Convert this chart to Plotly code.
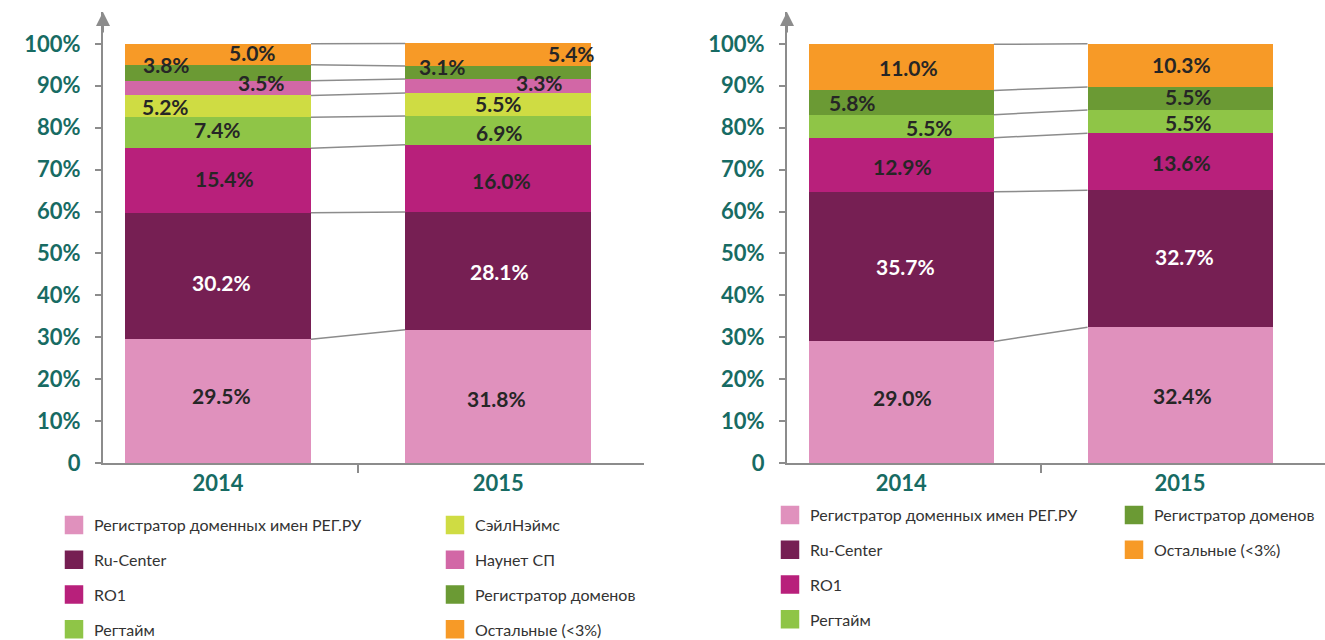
import plotly.graph_objects as go

# ---------------- data ----------------
years = ["2014", "2015"]

left_companies = ["Регистратор доменных имен РЕГ.РУ", "Ru-Center", "RO1", "Регтайм",
                  "СэйлНэймс", "Наунет СП", "Регистратор доменов", "Остальные (<3%)"]
left_2014 = [29.5, 30.2, 15.4, 7.4, 5.2, 3.5, 3.8, 5.0]
left_2015 = [31.8, 28.1, 16.0, 6.9, 5.5, 3.3, 3.1, 5.4]

right_companies = ["Регистратор доменных имен РЕГ.РУ", "Ru-Center", "RO1", "Регтайм",
                   "Регистратор доменов", "Остальные (<3%)"]
right_2014 = [29.0, 35.7, 12.9, 5.5, 5.8, 11.0]
right_2015 = [32.4, 32.7, 13.6, 5.5, 5.5, 10.3]

y_tickvals = [0, 10, 20, 30, 40, 50, 60, 70, 80, 90, 100]
y_ticktext = ["0", "10%", "20%", "30%", "40%", "50%", "60%", "70%", "80%", "90%", "100%"]

# ---------------- styles ----------------
colors = {
    "Регистратор доменных имен РЕГ.РУ": "#e091bd",
    "Ru-Center": "#761f53",
    "RO1": "#b8207b",
    "Регтайм": "#8fc547",
    "СэйлНэймс": "#cfdc43",
    "Наунет СП": "#d267a6",
    "Регистратор доменов": "#6b9a34",
    "Остальные (<3%)": "#f79a27",
}
label_colors = {"Ru-Center": "white"}
TEAL = "#176b63"
GRAY = "#8c8c8c"
FONT = "Lato"
BAR_W = 0.664

# label pixel offsets (dx, dy) per segment
left_dx = [[4, 4, 7, 0, -52, 44, -51, 35], [-2, 1, 3, 1, 0, 41, -56, 73]]
left_dy = [[6, -6, 2, 3, 0, 6, 8, 2], [-2, -1, -2, -2, 1, 3, 6, 1]]
right_dx = [[1, 4, 1, 28, -49, 7], [2, 4, 1, 8, 8, 1]]
right_dy = [[5, 0, -2, -1, 0, 0], [0, 2, -1, -1, 2, 1]]

# legend columns: (legend id, list of companies)
left_legend_cols = [("legend", left_companies[:4]), ("legend2", left_companies[4:])]
right_legend_cols = [("legend3", right_companies[:4]), ("legend4", right_companies[4:])]

fig = go.Figure()


def add_chart(companies, v14, v15, xa, ya, dxs, dys, legend_cols, tag):
    xs = [0, 1]
    for name, a, b in zip(companies, v14, v15):
        fig.add_trace(go.Bar(x=xs, y=[a, b], width=BAR_W, name=name,
                             marker=dict(color=colors[name], line=dict(width=0)),
                             showlegend=False, xaxis=xa, yaxis=ya, hoverinfo="skip"))
    # connectors between cumulative boundaries
    c14 = 0.0
    c15 = 0.0
    for a, b in zip(v14, v15):
        c14 += a
        c15 += b
        fig.add_trace(go.Scatter(x=[xs[0] + BAR_W / 2, xs[1] - BAR_W / 2], y=[c14, c15],
                                 mode="lines", line=dict(color=GRAY, width=1.5),
                                 showlegend=False, xaxis=xa, yaxis=ya, hoverinfo="skip"))
    # data labels
    for yi, vals in enumerate([v14, v15]):
        cum = 0.0
        for k, (name, v) in enumerate(zip(companies, vals)):
            mid = cum + v / 2
            cum += v
            fig.add_annotation(x=xs[yi], y=mid, xref=xa, yref=ya, text=f"{v:.1f}%",
                               showarrow=False, xshift=dxs[yi][k], yshift=dys[yi][k],
                               font=dict(family=FONT, size=21, color=label_colors.get(name, "#262626"),
                                         weight="bold"))
    # legend entries
    for leg, names in legend_cols:
        for name in names:
            fig.add_trace(go.Scatter(x=[None], y=[None], mode="markers", name=name,
                                     marker=dict(symbol="square", size=16, color=colors[name],
                                                 line=dict(color=colors[name], width=2.5)),
                                     legend=leg, legendgroup=tag + name, showlegend=True,
                                     xaxis=xa, yaxis=ya))
    # arrow on top of the y axis
    fig.add_annotation(x=-0.41, y=107.6, xref=xa, yref=ya, ax=0, ay=22, text="",
                       showarrow=True, arrowhead=2, arrowsize=1.4, arrowwidth=2,
                       arrowcolor=GRAY, standoff=0)


add_chart(left_companies, left_2014, left_2015, "x", "y", left_dx, left_dy, left_legend_cols, "L")
add_chart(right_companies, right_2014, right_2015, "x2", "y2", right_dx, right_dy, right_legend_cols, "R")

W, H = 1325, 640
TOP, BOTTOM = 12, 463          # plot area in pixels
PH = BOTTOM - TOP


def xaxis_cfg(d0, d1, anchor):
    return dict(domain=[d0 / W, d1 / W], range=[-0.41, 1.52], anchor=anchor,
                tickmode="array", tickvals=[0, 1], ticktext=years, ticks="",
                showline=True, linecolor=GRAY, linewidth=2, showgrid=False, zeroline=False,
                tickfont=dict(family=FONT, size=22, color=TEAL, weight="bold"),
                minor=dict(tickmode="array", tickvals=[0.5], ticks="outside", ticklen=8,
                           tickcolor=GRAY, tickwidth=1.5),
                fixedrange=True)


def yaxis_cfg(anchor):
    return dict(domain=[0, 1], range=[0, 107.6], anchor=anchor,
                tickmode="array", tickvals=y_tickvals, ticktext=y_ticktext,
                ticks="outside", ticklen=6, tickcolor=GRAY, tickwidth=1.5,
                ticklabelstandoff=10,
                showline=True, linecolor=GRAY, linewidth=2, showgrid=False, zeroline=False,
                tickfont=dict(family=FONT, size=22, color=TEAL, weight="bold"),
                fixedrange=True)


def legend_cfg(x_px, top_px):
    return dict(x=x_px / W, y=(BOTTOM - top_px) / PH, xanchor="left", yanchor="top",
                orientation="v", traceorder="grouped", tracegroupgap=11,
                font=dict(family=FONT, size=16, color="#333333"),
                bgcolor="rgba(0,0,0,0)", borderwidth=0, itemclick=False)


fig.update_layout(
    width=W, height=H,
    margin=dict(l=0, r=0, t=TOP, b=H - BOTTOM, autoexpand=False),
    barmode="stack",
    bargap=0,
    plot_bgcolor="white", paper_bgcolor="white",
    xaxis=xaxis_cfg(103, 644, "y"),
    yaxis=yaxis_cfg("x"),
    xaxis2=xaxis_cfg(787, 1325, "y2"),
    yaxis2=yaxis_cfg("x2"),
    legend=legend_cfg(54, 508),
    legend2=legend_cfg(435, 508),
    legend3=legend_cfg(770, 498),
    legend4=legend_cfg(1114, 498),
    font=dict(family=FONT),
)

fig.write_html("out.html", config={"displayModeBar": False},
               post_script="document.body.style.margin='0';")
